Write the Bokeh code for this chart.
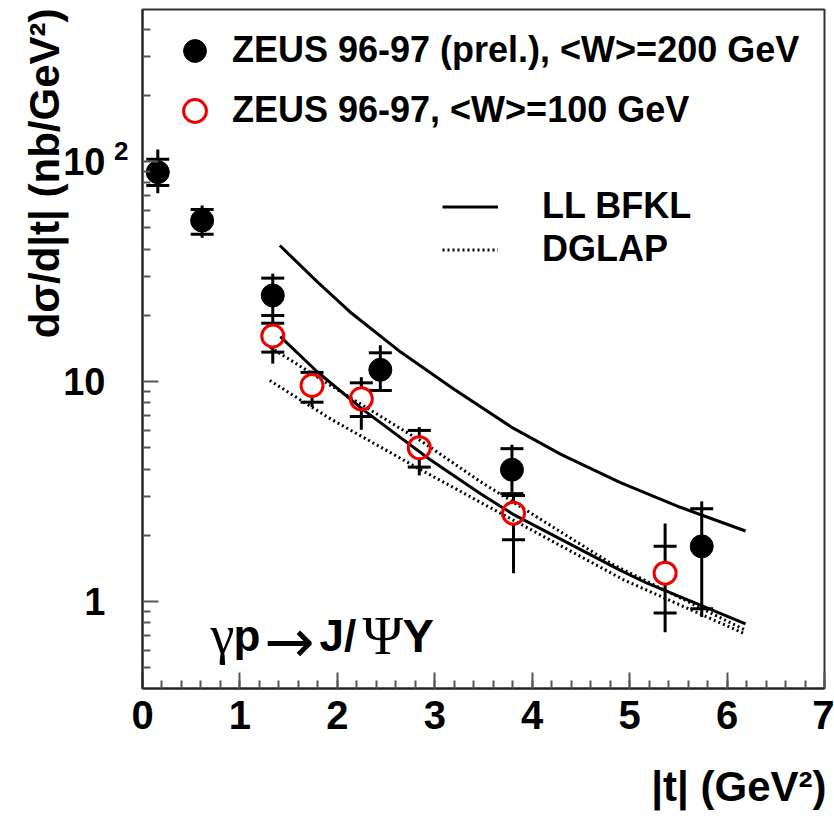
from bokeh.plotting import figure
from bokeh.models import Range1d, FixedTicker, Label, Legend, LegendItem, LogAxis, Title
from bokeh.embed import file_html
from bokeh.resources import INLINE

# ---------------- data ----------------
# ZEUS 96-97 (prel.), <W>=200 GeV
t_w200 = [0.157, 0.612, 1.337, 2.441, 3.792, 5.74]
y_w200 = [89.4, 53.9, 24.6, 11.3, 3.97, 1.78]
stat_hi_w200 = [102.4, 60.5, 29.5, 13.5, 4.95, 2.64]
stat_lo_w200 = [77.8, 46.7, 19.95, 9.1, 3.09, 0.927]
tot_hi_w200 = [113.4, 63.1, 30.9, 14.6, 5.16, 2.85]
tot_lo_w200 = [71.8, 45.0, 18.4, 9.1, 3.0, 0.849]

# ZEUS 96-97, <W>=100 GeV
t_w100 = [1.337, 1.74, 2.246, 2.841, 3.808, 5.364]
y_w100 = [16.1, 9.59, 8.34, 5.0, 2.52, 1.345]
stat_hi_w100 = [18.4, 11.0, 9.86, 5.99, 3.03, 1.78]
stat_lo_w100 = [13.6, 8.05, 6.93, 4.08, 1.91, 0.885]
tot_hi_w100 = [18.4, 11.2, 10.46, 6.2, 3.03, 2.26]
tot_lo_w100 = [12.05, 7.64, 6.03, 3.74, 1.345, 0.725]

# LL BFKL curves
bfkl_hi_t = [1.41, 1.8, 2.13, 2.65, 3.19, 3.8, 4.3, 4.9, 5.52, 6.19]
bfkl_hi_y = [41.5, 28.2, 20.7, 13.6, 9.27, 6.15, 4.65, 3.48, 2.68, 2.09]
bfkl_lo_t = [1.415, 1.79, 2.27, 2.95, 3.47, 3.81, 4.9, 5.18, 6.19]
bfkl_lo_y = [16.0, 11.1, 7.41, 4.42, 3.09, 2.48, 1.387, 1.21, 0.79]

# DGLAP curves
dglap_a_t = [1.31, 1.72, 1.93, 2.65, 2.85, 3.47, 4.83, 6.19]
dglap_a_y = [14.3, 11.0, 9.6, 6.1, 5.4, 3.5, 1.47, 0.74]
dglap_b_t = [1.306, 1.93, 2.65, 2.85, 3.19, 3.47, 4.94, 6.19]
dglap_b_y = [10.1, 6.76, 4.47, 3.98, 3.30, 2.82, 1.253, 0.71]

x_major = [0, 1, 2, 3, 4, 5, 6, 7]
x_minor = [i / 5 for i in range(36)]
y_major = [1, 10, 100]
y_minor = [m * 10 ** e for e in (-1, 0, 1, 2) for m in range(2, 10)]
y_labels = {1: "1", 10: "10", 100: "10"}
sup_pos = 112          # where the raised exponent "2" of 10^2 sits
sup_label = {112: "2"}

FONT = "Liberation Sans"
SERIF = "Liberation Serif"

# helpers for annotation placement (page pixel -> data)
def ax(sx):
    return (sx - 142) * 7 / 682

def ay(sy):
    return 10 ** ((601 - sy) / 220)

p = figure(width=834, height=816, x_range=Range1d(0, 7), y_range=Range1d(0.402, 491),
           y_axis_type="log", y_axis_location=None, output_backend="svg",
           toolbar_location=None,
           min_border_left=142, min_border_right=10, min_border_top=9, min_border_bottom=128)
p.xgrid.visible = False
p.ygrid.visible = False
p.outline_line_color = "#333333"
p.outline_line_width = 2
p.background_fill_color = "white"
p.border_fill_color = "white"

def style_ticks(axis):
    axis.axis_line_color = "#222222"
    axis.axis_line_width = 2
    axis.major_tick_in = 16
    axis.major_tick_out = 0
    axis.minor_tick_in = 8
    axis.minor_tick_out = 0
    axis.major_tick_line_color = "#555555"
    axis.minor_tick_line_color = "#555555"
    axis.major_tick_line_width = 2
    axis.minor_tick_line_width = 2

def style_labels(axis, size):
    axis.major_label_text_font = FONT
    axis.major_label_text_font_style = "bold"
    axis.major_label_text_font_size = size
    axis.major_label_text_color = "black"

def no_lines(axis):
    axis.axis_line_color = None
    axis.major_tick_line_color = None
    axis.minor_tick_line_color = None
    axis.major_tick_in = 0
    axis.major_tick_out = 0
    axis.minor_tick_in = 0
    axis.minor_tick_out = 0

# x axis
p.xaxis.ticker = FixedTicker(ticks=x_major, minor_ticks=x_minor)
style_ticks(p.xaxis)
style_labels(p.xaxis, "40px")
p.xaxis.major_label_standoff = 12

# y axes: ticks (inner), exponent, labels (outer)
ax_ticks = LogAxis(ticker=FixedTicker(ticks=y_major, minor_ticks=y_minor),
                   major_label_overrides={1: "", 10: "", 100: ""}, major_label_standoff=0)
style_ticks(ax_ticks)
style_labels(ax_ticks, "1px")
ax_sup = LogAxis(ticker=FixedTicker(ticks=[sup_pos], minor_ticks=[]),
                 major_label_overrides=sup_label, major_label_standoff=14)
no_lines(ax_sup)
style_labels(ax_sup, "26px")
ax_lab = LogAxis(ticker=FixedTicker(ticks=y_major, minor_ticks=[]),
                 major_label_overrides=y_labels, major_label_standoff=6)
no_lines(ax_lab)
style_labels(ax_lab, "38px")
p.add_layout(ax_ticks, "left")
p.add_layout(ax_sup, "left")
p.add_layout(ax_lab, "left")

# axis titles
p.add_layout(Title(text="dσ/d|t| (nb/GeV²)", align="right", vertical_align="bottom",
                   offset=-1, standoff=-14,
                   text_font=FONT, text_font_style="bold", text_font_size="42px",
                   text_color="black"), "left")
p.add_layout(Title(text=" ", standoff=0, text_font=FONT, text_font_size="24px"), "below")
p.add_layout(Title(text="|t| (GeV²)", align="right", vertical_align="bottom",
                   offset=-2, standoff=0,
                   text_font=FONT, text_font_style="bold", text_font_size="42px",
                   text_color="black"), "below")

# error bars
p.segment(x0=t_w200, y0=tot_lo_w200, x1=t_w200, y1=tot_hi_w200, line_color="black", line_width=3)
p.segment(x0=t_w100, y0=tot_lo_w100, x1=t_w100, y1=tot_hi_w100, line_color="black", line_width=3)
p.scatter(x=t_w200 + t_w200, y=stat_lo_w200 + stat_hi_w200, marker="dash", size=23,
          line_color="black", line_width=3)
p.scatter(x=t_w100 + t_w100, y=stat_lo_w100 + stat_hi_w100, marker="dash", size=23,
          line_color="black", line_width=3)

# white interior of open circles
p.scatter(x=t_w100, y=y_w100, size=22, marker="circle", fill_color="white", line_color=None)

# theory curves
r_bfkl = p.line(bfkl_hi_t, bfkl_hi_y, line_color="black", line_width=3)
p.line(bfkl_lo_t, bfkl_lo_y, line_color="black", line_width=3)
r_dglap = p.line(dglap_a_t, dglap_a_y, line_color="black", line_width=3, line_dash="2 3")
p.line(dglap_b_t, dglap_b_y, line_color="black", line_width=3, line_dash="2 3")

# markers
r_w100 = p.scatter(x=t_w100, y=y_w100, size=22, marker="circle", fill_color=None,
                   line_color="#ee0000", line_width=3)
r_w200 = p.scatter(x=t_w200, y=y_w200, size=23, marker="circle", fill_color="black",
                   line_color="black")

# legends
leg1 = Legend(items=[LegendItem(label="ZEUS 96-97 (prel.), <W>=200 GeV", renderers=[r_w200]),
                     LegendItem(label="ZEUS 96-97, <W>=100 GeV", renderers=[r_w100])],
              location=(24, 549.5), glyph_width=57, glyph_height=57, spacing=3,
              padding=0, margin=0, label_standoff=9,
              background_fill_alpha=0, border_line_alpha=0,
              label_text_font=FONT, label_text_font_style="bold",
              label_text_font_size="36px", label_text_color="black")
leg2 = Legend(items=[LegendItem(label="LL BFKL", renderers=[r_bfkl]),
                     LegendItem(label="DGLAP", renderers=[r_dglap])],
              location=(300, 417.5), glyph_width=56, glyph_height=43, spacing=0,
              padding=0, margin=0, label_standoff=44,
              background_fill_alpha=0, border_line_alpha=0,
              label_text_font=FONT, label_text_font_style="bold",
              label_text_font_size="36px", label_text_color="black")
p.add_layout(leg1, "center")
p.add_layout(leg2, "center")

# process label  γp→J/ΨY
pieces = [("γ", 210, 635, SERIF, "normal", "54px"),
          ("p", 233, 635, FONT, "bold", "44px"),
          ("→", 264, 641, "DejaVu Sans", "normal", "60px"),
          ("J/", 319, 635, FONT, "bold", "44px"),
          ("Ψ", 362, 635, SERIF, "normal", "55px"),
          ("Y", 402, 635, FONT, "bold", "47px")]
for txt, sx, sy, fnt, sty, sz in pieces:
    p.add_layout(Label(x=ax(sx), y=ay(sy), text=txt, text_font=fnt, text_font_style=sty,
                       text_font_size=sz, text_color="black",
                       text_align="left", text_baseline="alphabetic"))

open("out.html", "w").write(file_html(p, INLINE))
